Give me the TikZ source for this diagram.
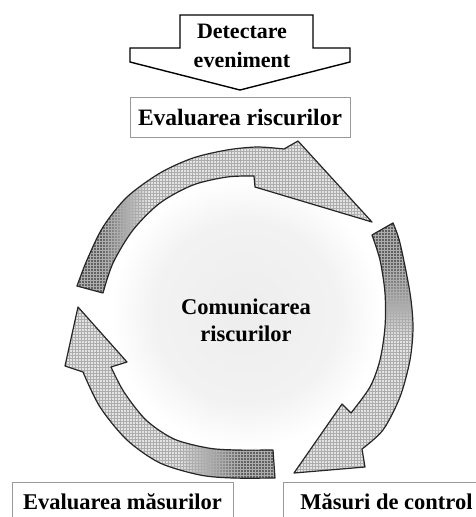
\documentclass[tikz,border=0pt]{standalone}
\usepackage{fontspec}
\setmainfont{Liberation Serif}
\usetikzlibrary{patterns}

% greys of the cycle bands: dark at each tail, light towards the head
\colorlet{taildark}{black!62}
\colorlet{tailmid}{black!38}
\colorlet{bandlight}{black!11}
\colorlet{hazegray}{black!7}
\colorlet{hazesoft}{black!5}

\pgfdeclarehorizontalshading{bandA}{100bp}{color(0bp)=(taildark); color(29bp)=(taildark); color(32.5bp)=(tailmid); color(37bp)=(bandlight); color(100bp)=(bandlight)}
\pgfdeclareverticalshading{bandB}{100bp}{color(0bp)=(bandlight); color(52bp)=(bandlight); color(60bp)=(tailmid); color(67bp)=(taildark); color(100bp)=(taildark)}
\pgfdeclarehorizontalshading{bandC}{100bp}{color(0bp)=(bandlight); color(52bp)=(bandlight); color(61bp)=(tailmid); color(67bp)=(taildark); color(100bp)=(taildark)}
\pgfdeclareradialshading{haze}{\pgfpoint{0bp}{0bp}}{color(0bp)=(hazegray); color(17bp)=(hazesoft); color(25bp)=(white); color(50bp)=(white)}

\begin{document}
\begin{tikzpicture}[x=1pt,y=-1pt,
  band/.style={draw=black!85, line width=1.2pt, line join=round,
               pattern=grid, pattern color=black!32},
  labelbox/.style={draw=black!40, line width=0.8pt, fill=white, inner sep=0pt},
  caption/.style={font=\fontsize{22.5}{27}\selectfont\bfseries, align=center, inner sep=0pt},
  bigarrow/.style={draw=black, line width=1.4pt, line join=miter, fill=white}]

\fill[white] (0,0) rectangle (475,517);
\useasboundingbox (0,0) rectangle (475,517);

% faint haze in the middle of the cycle
\shade[shading=haze] (246,313) circle[radius=135];

% incoming block arrow
\draw[bigarrow] (180,15) -- (313,15) -- (313,48) -- (350,48) -- (350,62)
  -- (240,90) -- (130,62) -- (130,48) -- (180,48) -- cycle;
\node[caption, font=\fontsize{22}{29}\selectfont\bfseries] (event) at (242,46) {Detectare\\eveniment};

% risk assessment box
\node[labelbox, caption, font=\fontsize{23.5}{27}\selectfont\bfseries, minimum width=220, minimum height=40] (assess) at (240,117) {Evaluarea riscurilor};

% top band: from the left round to the upper right
\path[preaction={shade,shading=bandA}, band]
  plot[smooth] coordinates {(77,286) (87,260) (103,227) (127,197) (160,173) (193,158) (227,150) (257,147) (284,149)}
  -- (298,141) -- (372,222) -- (255,187)
  -- plot[smooth] coordinates {(254,176) (227,177) (193,185) (160,203) (133,230) (113,263) (103,293)}
  -- cycle;

% right band: down the right side
\path[preaction={shade,shading=bandB}, band]
  plot[smooth] coordinates {(372,235) (380,260) (385,293) (385,327) (380,360) (370,387) (351,413)}
  -- (342,404) -- (294,473) -- (365,467)
  -- plot[smooth] coordinates {(362,449) (383,430) (400,397) (410,360) (413,327) (410,293) (400,243) (393,223)}
  -- cycle;

% lower left band: from the bottom up to the left
\path[preaction={shade,shading=bandC}, band]
  plot[smooth] coordinates {(275,478) (233,478) (200,475) (160,463) (127,440) (100,407) (83,372)}
  -- (65,366) -- (78,307) -- (127,362)
  -- plot[smooth] coordinates {(111,367) (124,392) (146,420) (174,439) (208,448) (236,450) (273,450)}
  -- cycle;

% centre text
\node[caption] (comm) at (246,320) {Comunicarea\\riscurilor};

% bottom boxes
\node[labelbox, caption, minimum width=221, minimum height=40] (review) at (122.5,502) {Evaluarea măsurilor};
\node[labelbox, caption, minimum width=207, minimum height=40] (control) at (386.5,502) {Măsuri de control};
\end{tikzpicture}
\end{document}
